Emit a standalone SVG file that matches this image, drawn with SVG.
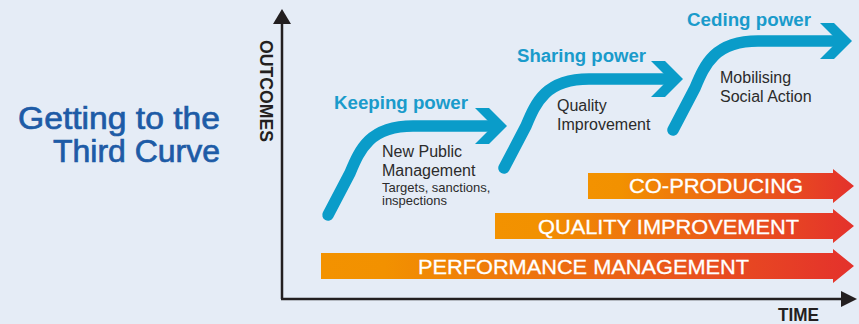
<svg xmlns="http://www.w3.org/2000/svg" width="859" height="324" viewBox="0 0 859 324">
<style>
text{font-family:"Liberation Sans",Arial,sans-serif}
.title{font-size:31px;fill:#1d5ba6;stroke:#1d5ba6;stroke-width:0.7;text-anchor:end}
.phase{font-size:18px;font-weight:bold;fill:#1a9bcb}
.desc{font-size:16px;fill:#2b2b2b}
.small{font-size:13px;fill:#2b2b2b}
.axislbl{font-size:17.5px;font-weight:bold;fill:#231f20}
.barlbl{font-size:20.5px;fill:#ffffff;stroke:#ffffff;stroke-width:0.3}
.curve{fill:none;stroke:#0a9cc9;stroke-width:11.5;stroke-linecap:round;stroke-linejoin:round}
.head{fill:#0a9cc9}
.axis{stroke:#231f20;stroke-width:2.5;fill:none}
.axhead{fill:#231f20}
.bar{fill:url(#barGrad)}
</style>
<defs>
<linearGradient id="barGrad" x1="0" y1="0" x2="1" y2="0">
<stop offset="0" stop-color="#f39200"/>
<stop offset="0.12" stop-color="#f29100"/>
<stop offset="1" stop-color="#e4312c"/>
</linearGradient>
<g id="stage">
<path class="curve" d="M0,0 L22,-42 C32,-66 42,-89 85,-89 L166,-89"/>
<polygon class="head" points="147,-107 161,-107 179,-89 161,-71 147,-71 165,-89"/>
</g>
</defs>
<rect x="0" y="0" width="859" height="324" fill="#e5ecf6"/>

<g id="title">
<text class="title" x="220" y="129" textLength="202" lengthAdjust="spacingAndGlyphs">Getting to the</text>
<text class="title" x="220" y="162" textLength="167" lengthAdjust="spacingAndGlyphs">Third Curve</text>
</g>

<g id="connectors">
<g id="y-axis">
<line class="axis" x1="282" y1="22" x2="282" y2="299"/>
<polygon class="axhead" points="273,24 282,9 291,24"/>
</g>
<g id="x-axis">
<line class="axis" x1="281" y1="299" x2="843" y2="299"/>
<polygon class="axhead" points="841,291 857,299 841,307"/>
</g>
</g>

<g id="axis-labels">
<text class="axislbl" transform="translate(260,40) rotate(90)" textLength="102" lengthAdjust="spacingAndGlyphs">OUTCOMES</text>
<text class="axislbl" x="778" y="321" textLength="41" lengthAdjust="spacingAndGlyphs">TIME</text>
</g>

<g id="bar-performance">
<polygon class="bar" points="321,253 833,253 833,249 854,266 833,283 833,279 321,279"/>
<text class="barlbl" x="418" y="274" textLength="331" lengthAdjust="spacingAndGlyphs">PERFORMANCE MANAGEMENT</text>
</g>
<g id="bar-quality">
<polygon class="bar" points="495,213 833,213 833,209 854,226 833,243 833,239 495,239"/>
<text class="barlbl" x="538" y="234" textLength="261" lengthAdjust="spacingAndGlyphs">QUALITY IMPROVEMENT</text>
</g>
<g id="bar-coproducing">
<polygon class="bar" points="588,173 833,173 833,169 854,186 833,203 833,199 588,199"/>
<text class="barlbl" x="629" y="193" textLength="174" lengthAdjust="spacingAndGlyphs">CO-PRODUCING</text>
</g>

<g id="keeping-power">
<use href="#stage" transform="translate(328,215)"/>
<text class="phase" x="334" y="109" textLength="134" lengthAdjust="spacingAndGlyphs">Keeping power</text>
<text class="desc" x="382" y="157">New Public</text>
<text class="desc" x="382" y="176">Management</text>
<text class="small" x="382" y="192">Targets, sanctions,</text>
<text class="small" x="382" y="205">inspections</text>
</g>

<g id="sharing-power">
<use href="#stage" transform="translate(504,168)"/>
<text class="phase" x="517" y="62" textLength="129" lengthAdjust="spacingAndGlyphs">Sharing power</text>
<text class="desc" x="557" y="111">Quality</text>
<text class="desc" x="557" y="130">Improvement</text>
</g>

<g id="ceding-power">
<use href="#stage" transform="translate(673,130)"/>
<text class="phase" x="687" y="26" textLength="124" lengthAdjust="spacingAndGlyphs">Ceding power</text>
<text class="desc" x="720" y="83">Mobilising</text>
<text class="desc" x="720" y="102">Social Action</text>
</g>
</svg>
